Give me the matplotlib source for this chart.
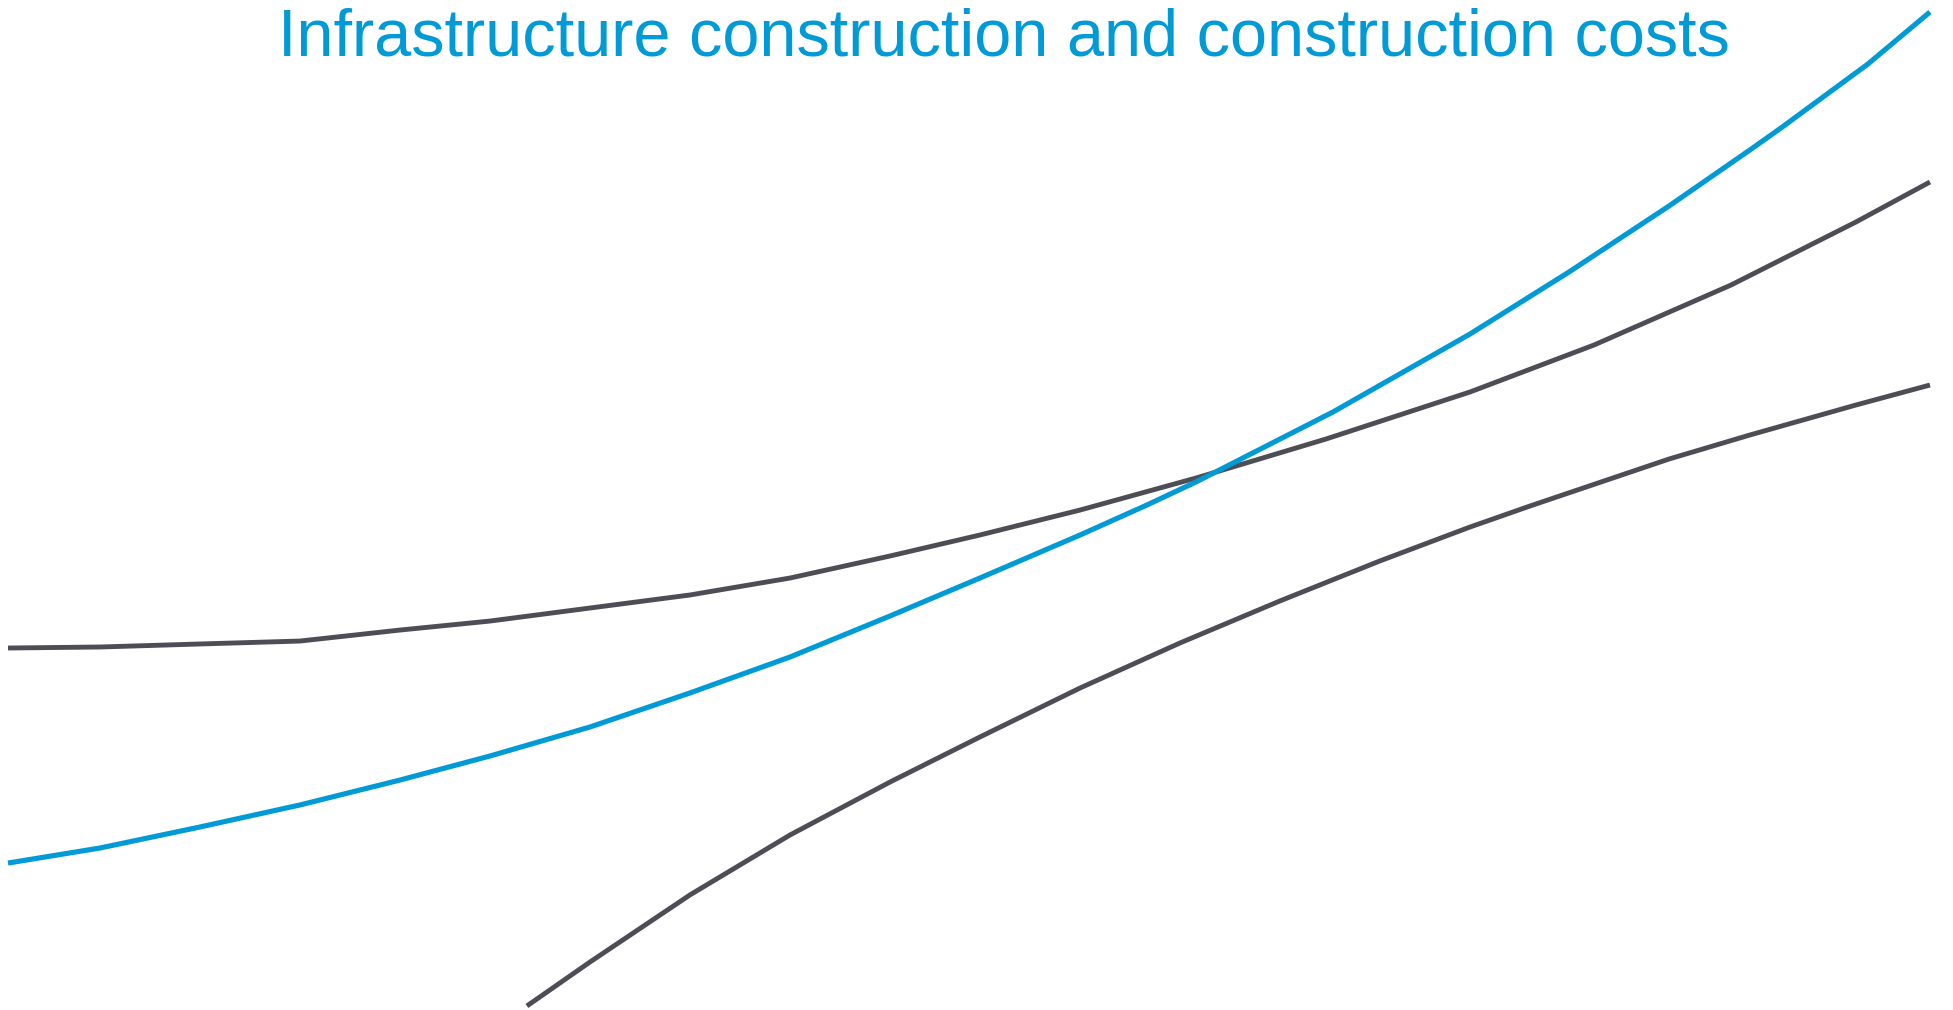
import matplotlib.pyplot as plt

# values, x and y both on a 0-100 scale
x_upper = [0, 4.79, 9.99, 15.19, 20.40, 25.08, 30.28, 35.48, 40.69, 45.89,
           50.57, 55.78, 61.81, 68.57, 76.07, 82.52, 89.65, 96.15, 100]
y_upper = [35.84, 35.94, 36.24, 36.53, 37.62, 38.51, 39.80, 41.09, 42.77, 44.95,
           47.03, 49.50, 52.67, 56.53, 61.19, 65.84, 71.78, 78.02, 81.98]

x_blue = [0, 4.79, 9.99, 15.19, 20.40, 25.08, 30.28, 35.48, 40.69, 45.89, 50.57,
          55.78, 59.26, 61.81, 68.94, 76.07, 81.22, 86.42, 90.63, 92.25, 96.77, 100]
y_blue = [14.55, 16.04, 18.12, 20.30, 22.77, 25.15, 28.02, 31.39, 34.95, 39.01, 42.77,
          47.03, 50.00, 52.28, 59.21, 66.93, 73.07, 79.60, 85.15, 87.33, 93.66, 98.81]

x_lower = [27.00, 30.28, 35.48, 40.69, 45.89, 50.57, 55.78, 60.98, 66.18, 71.38,
           76.07, 79.19, 86.42, 90.63, 96.15, 100]
y_lower = [0.40, 4.75, 11.39, 17.33, 22.57, 27.03, 31.88, 36.34, 40.50, 44.46,
           47.82, 49.90, 54.55, 56.93, 59.90, 61.88]

title = "Infrastructure construction and construction costs"

blue = '#009ad6'
gray = '#4d4d55'

fig = plt.figure(figsize=(19.53, 10.10), dpi=100)
ax = fig.add_axes([0.0041, 0.0, 0.9841, 1.0])
ax.set_xlim(0, 100)
ax.set_ylim(0, 100)
ax.axis('off')

ax.plot(x_upper, y_upper, color=gray, lw=3.5, clip_on=False, solid_capstyle='butt')
ax.plot(x_lower, y_lower, color=gray, lw=3.5, clip_on=False, solid_capstyle='butt')
ax.plot(x_blue, y_blue, color=blue, lw=3.7, clip_on=False, solid_capstyle='butt')

fig.text(0.514, 0.9455, title, ha='center', va='baseline', color=blue,
         fontsize=48, family='Liberation Sans')

fig.savefig('out.png', dpi=100)
